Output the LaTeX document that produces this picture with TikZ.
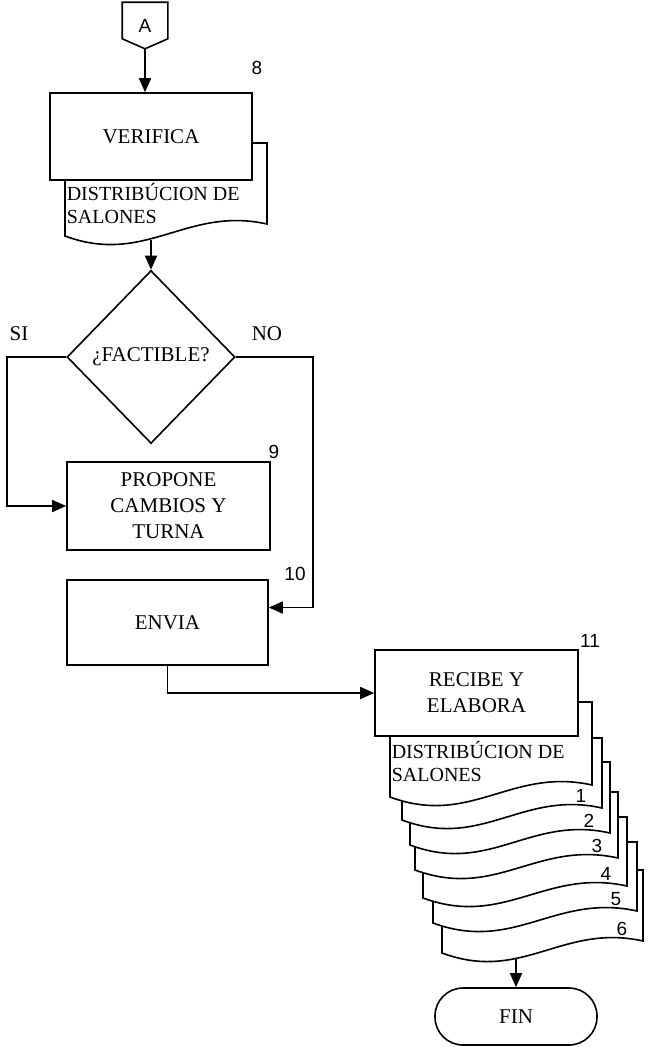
\documentclass[tikz,border=0pt]{standalone}
\usepackage{fontspec}
\setmainfont{Liberation Serif}
\newfontfamily\numfont{Liberation Sans}
\usetikzlibrary{shapes.geometric, arrows.meta}
\newcommand{\docpath}[4]{(#1,#2) -- (#3,#2) -- (#3,#4-12) .. controls ({#1+0.6*(#3-#1)},#4-30) and ({#1+0.4*(#3-#1)},#4+30) .. (#1,#4) -- cycle}

\begin{document}
\begin{tikzpicture}[x=1pt, y=-1pt, line width=1.6pt,
    box/.style={draw, fill=white, align=center, font=\fontsize{21}{26}\selectfont},
    doc/.style={draw, fill=white},
    doctext/.style={anchor=west, align=left, inner sep=2pt, font=\fontsize{20}{23}\selectfont},
    num/.style={font=\numfont\fontsize{19}{21}\selectfont},
    arr/.style={-{Triangle[length=14pt, width=12pt]}}]
    \useasboundingbox (0,0) rectangle (649,1047);

    % Connector A
    \node (conA) at (145,25.5) [minimum width=44pt, minimum height=45pt, num] {A};
    \draw (conA.north west) -- (conA.north east) -- ([yshift=10pt]conA.south east) -- (conA.south) -- ([yshift=10pt]conA.south west) -- cycle;

    % Verifica
    \draw[doc] \docpath{65}{143}{267}{236};
    \node (verif) at (151,136.5) [box, minimum width=202pt, minimum height=87pt] {VERIFICA};
    \node (dsal1) at (64,204) [doctext] {DISTRIBÚCION DE\\SALONES};
    \coordinate (dsal1b) at (151,240);
    \node (n8) at (257,68) [num] {8};
    \draw[arr] (conA.south) -- (conA.south |- verif.north);

    % Decision
    \node (fact) at (151,357) [draw, diamond, aspect=1, inner sep=0pt, minimum width=168pt, minimum height=173pt, font=\fontsize{21}{26}\selectfont] {¿FACTIBLE?};
    \draw[arr] (dsal1b) -- (fact.north);
    \node (si) at (19,334) [font=\fontsize{21}{26}\selectfont] {SI};
    \node (no) at (267,334) [font=\fontsize{21}{26}\selectfont] {NO};

    % Propone / Envia
    \node (prop) at (168.5,506) [box, minimum width=203pt, minimum height=88pt] {PROPONE\\CAMBIOS Y\\TURNA};
    \node (n9) at (274,452) [num] {9};
    \node (envia) at (167.5,622.5) [box, minimum width=201pt, minimum height=85pt] {ENVIA};
    \node (n10) at (295,574) [num] {10};
    \draw[arr] (fact.west) -- ++(-59,0) |- (prop.west);
    \draw[arr] (fact.east) -- ++(77,0) |- ([yshift=15pt]envia.east);

    % Recibe y elabora
    \foreach \xa/\ya/\xb/\yb/\lab in {442/870/643/953/6, 433/842/637/923/5, 423/817/627/898/4, 415/792/618/870/3, 410/762/610/845/2, 402/738/602/820/1}{
        \draw[doc] \docpath{\xa}{\ya}{\xb}{\yb};
        \node (cp\lab) at (\xb-21,\yb-24) [num] {\lab};
    }
    \draw[doc] \docpath{390}{702}{592}{797};
    \node (recibe) at (476.5,693) [box, minimum width=203pt, minimum height=86pt] {RECIBE Y\\ELABORA};
    \node (dsal2) at (389,762) [doctext] {DISTRIBÚCION DE\\SALONES};
    \node (n11) at (590,641) [num] {11};
    \coordinate (dsal2b) at (516,959);
    \draw[arr] (envia.south) |- (recibe.west);

    % Fin
    \node (fin) at (516,1016.5) [draw, rounded corners=28pt, minimum width=162pt, minimum height=57pt, font=\fontsize{21}{26}\selectfont] {FIN};
    \draw[arr] (dsal2b) -- (fin.north);
\end{tikzpicture}
\end{document}
